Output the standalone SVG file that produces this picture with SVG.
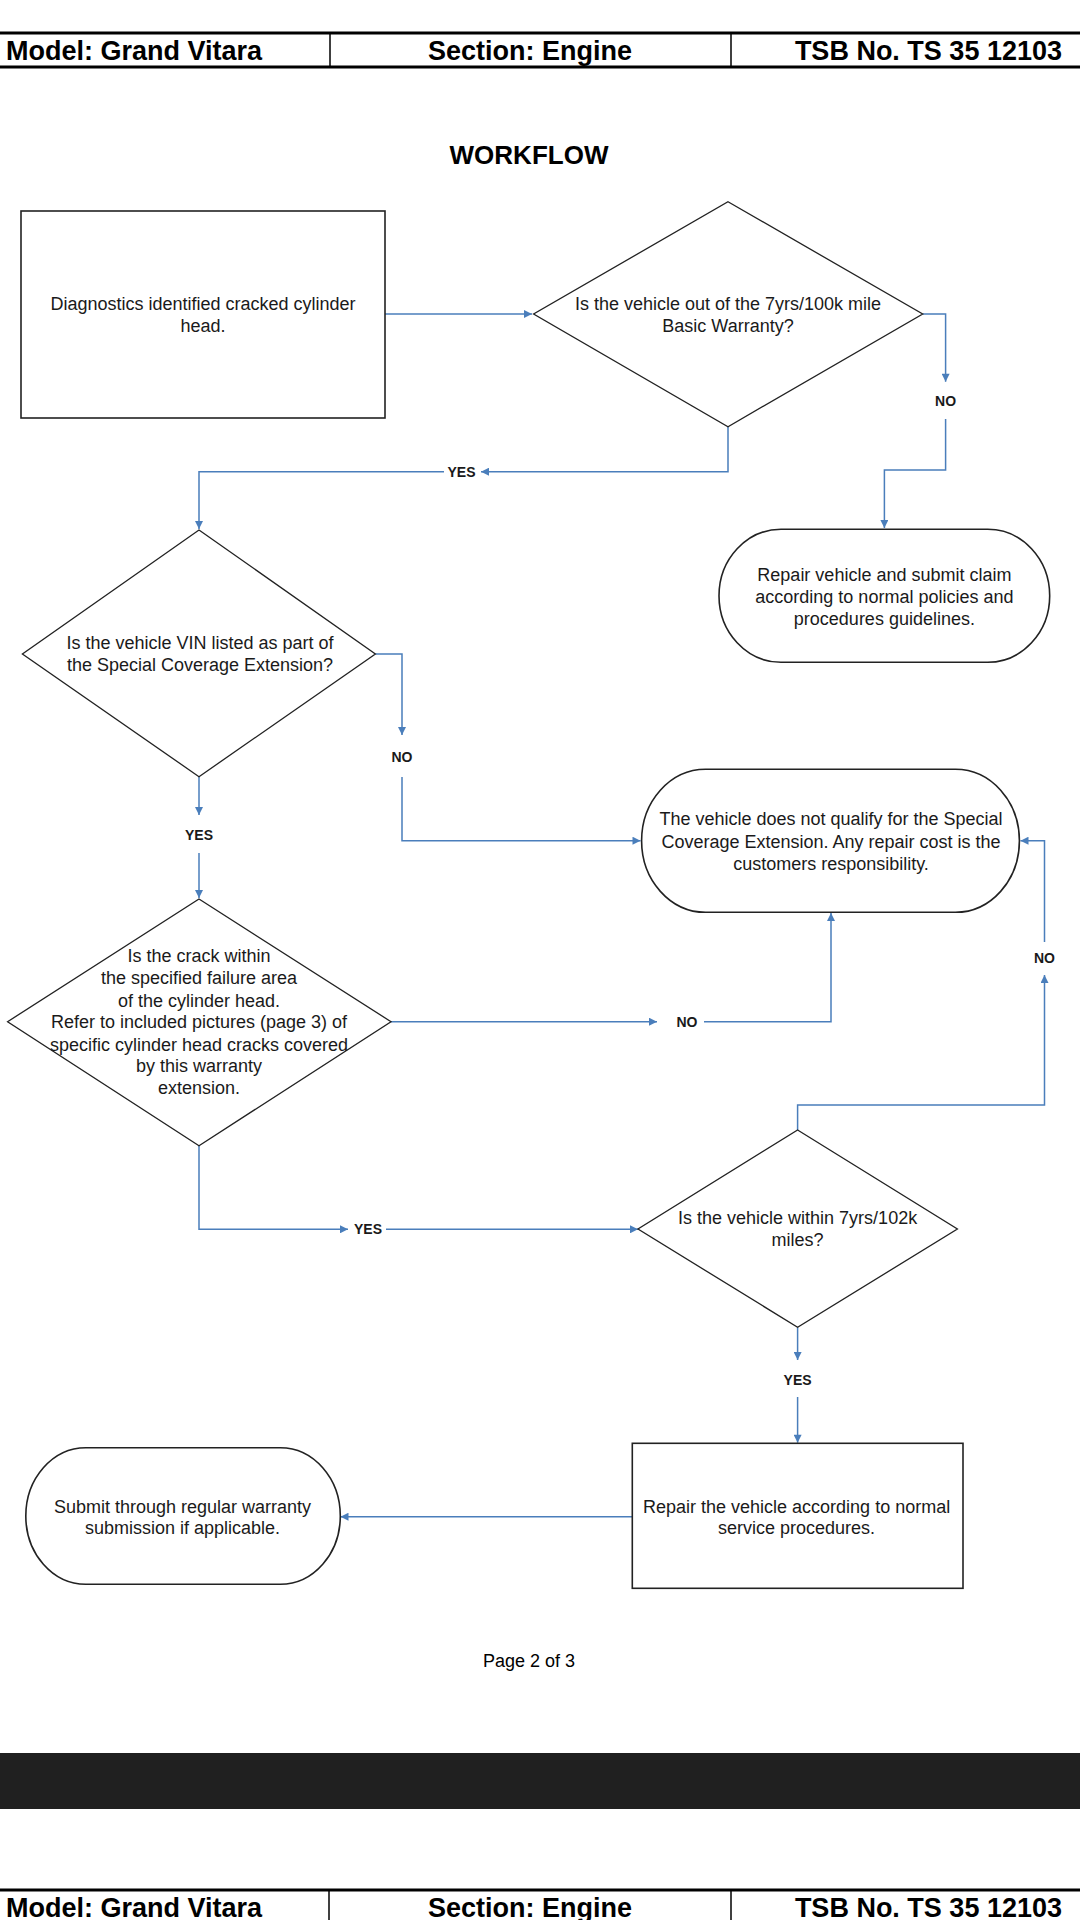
<svg xmlns="http://www.w3.org/2000/svg" width="1080" height="1920" viewBox="0 0 1080 1920">
<defs>
<marker id="arr" viewBox="0 0 10 10" refX="10" refY="5" markerWidth="9" markerHeight="8" markerUnits="userSpaceOnUse" orient="auto">
<path d="M0,0 L10,5 L0,10 z" fill="#4A7EBB"/>
</marker>
</defs>
<style>
.hdr{font-family:"Liberation Sans",Arial,sans-serif;font-weight:bold;font-size:27px;fill:#000}
.hl{stroke:#000;stroke-width:3;fill:none}
.vl{stroke:#000;stroke-width:1.5;fill:none}
.node{fill:#fff;stroke:#222;stroke-width:1.6}
.dia{fill:#fff;stroke:#222;stroke-width:1.3}
.t{font-family:"Liberation Sans",Arial,sans-serif;font-size:18px;fill:#1a1a1a;text-anchor:middle}
.lbl{font-family:"Liberation Sans",Arial,sans-serif;font-size:14px;font-weight:bold;fill:#1a1a1a;text-anchor:middle}
.c{fill:none;stroke:#4A7EBB;stroke-width:1.5}
.ca{fill:none;stroke:#4A7EBB;stroke-width:1.5;marker-end:url(#arr)}
</style>
<rect width="1080" height="1920" fill="#fff"/>

<g id="header-top">
<line class="hl" x1="0" y1="33" x2="1080" y2="33"/>
<line class="hl" x1="0" y1="67" x2="1080" y2="67"/>
<line class="vl" x1="330" y1="33" x2="330" y2="67"/>
<line class="vl" x1="731" y1="33" x2="731" y2="67"/>
<text class="hdr" x="6" y="60">Model: Grand Vitara</text>
<text class="hdr" x="530" y="60" text-anchor="middle">Section: Engine</text>
<text class="hdr" x="1062" y="60" text-anchor="end">TSB No. TS 35 12103</text>
</g>

<text id="title" x="529" y="164" text-anchor="middle" font-family="Liberation Sans, Arial, sans-serif" font-weight="bold" font-size="26" fill="#000">WORKFLOW</text>

<g id="connectors">
<path class="ca" d="M385,314 H532"/>
<path class="ca" d="M923,314 H945.6 V381.7"/>
<path class="ca" d="M945.6,419 V470 H884.4 V528"/>
<path class="ca" d="M728,427 V471.7 H481"/>
<path class="ca" d="M444,471.7 H199 V529"/>
<path class="ca" d="M375.4,654 H402 V735"/>
<path class="ca" d="M402,777 V840.7 H640.5"/>
<path class="ca" d="M199,777 V815"/>
<path class="ca" d="M199,853 V898"/>
<path class="ca" d="M391,1021.7 H657"/>
<path class="ca" d="M704,1021.7 H831 V913"/>
<path class="ca" d="M199,1145.7 V1229.3 H348"/>
<path class="ca" d="M386,1229.3 H638"/>
<path class="ca" d="M797.6,1130 V1105 H1044.5 V975"/>
<path class="ca" d="M1044.5,942 V840.7 H1020.5"/>
<path class="ca" d="M797.6,1327.3 V1360"/>
<path class="ca" d="M797.6,1397 V1442.7"/>
<path class="ca" d="M632.3,1516.7 H340.5"/>
</g>

<g id="labels">
<text class="lbl" x="945.6" y="405.7">NO</text>
<text class="lbl" x="461.5" y="476.7">YES</text>
<text class="lbl" x="402" y="761.7">NO</text>
<text class="lbl" x="199" y="840">YES</text>
<text class="lbl" x="687" y="1026.7">NO</text>
<text class="lbl" x="368" y="1234.3">YES</text>
<text class="lbl" x="1044.5" y="962.6">NO</text>
<text class="lbl" x="797.6" y="1385">YES</text>
</g>

<g id="n1-start">
<rect class="node" x="21" y="211" width="364" height="207"/>
<text class="t" x="203" y="310">Diagnostics identified cracked cylinder</text>
<text class="t" x="203" y="331.5">head.</text>
</g>

<g id="n2-basic-warranty">
<polygon class="dia" points="728,201.7 922.7,314 728,426.7 533.6,314"/>
<text class="t" x="728" y="310">Is the vehicle out of the 7yrs/100k mile</text>
<text class="t" x="728" y="331.5">Basic Warranty?</text>
</g>

<g id="n3-normal-claim">
<rect class="node" x="719" y="529.3" width="330.7" height="133" rx="62" ry="66.5"/>
<text class="t" x="884.4" y="580.5">Repair vehicle and submit claim</text>
<text class="t" x="884.4" y="602.5">according to normal policies and</text>
<text class="t" x="884.4" y="625">procedures guidelines.</text>
</g>

<g id="n4-vin">
<polygon class="dia" points="199,530 375.4,654 199,776.7 22.4,654"/>
<text class="t" x="200" y="649">Is the vehicle VIN listed as part of</text>
<text class="t" x="200" y="671">the Special Coverage Extension?</text>
</g>

<g id="n5-not-qualify">
<rect class="node" x="641.6" y="769.3" width="377.8" height="143" rx="64" ry="71.5"/>
<text class="t" x="831" y="825">The vehicle does not qualify for the Special</text>
<text class="t" x="831" y="848">Coverage Extension. Any repair cost is the</text>
<text class="t" x="831" y="870">customers responsibility.</text>
</g>

<g id="n6-crack-area">
<polygon class="dia" points="199,899 391,1021.7 199,1145.7 7.6,1021.7"/>
<text class="t" x="199" y="961.5">Is the crack within</text>
<text class="t" x="199" y="983.8">the specified failure area</text>
<text class="t" x="199" y="1006.5">of the cylinder head.</text>
<text class="t" x="199" y="1028">Refer to included pictures (page 3) of</text>
<text class="t" x="199" y="1050.5">specific cylinder head cracks covered</text>
<text class="t" x="199" y="1072">by this warranty</text>
<text class="t" x="199" y="1094">extension.</text>
</g>

<g id="n7-mileage">
<polygon class="dia" points="797.6,1130 957.4,1229 797.6,1327.3 638,1229"/>
<text class="t" x="797.6" y="1224">Is the vehicle within 7yrs/102k</text>
<text class="t" x="797.6" y="1246">miles?</text>
</g>

<g id="n8-repair">
<rect class="node" x="632.3" y="1443.3" width="330.7" height="145"/>
<text class="t" x="796.6" y="1512.5">Repair the vehicle according to normal</text>
<text class="t" x="796.6" y="1534">service procedures.</text>
</g>

<g id="n9-submit">
<rect class="node" x="25.8" y="1447.7" width="314.5" height="136.6" rx="60" ry="68.3"/>
<text class="t" x="182.5" y="1512.5">Submit through regular warranty</text>
<text class="t" x="182.5" y="1534">submission if applicable.</text>
</g>

<text id="page" x="529" y="1667" text-anchor="middle" font-family="Liberation Sans, Arial, sans-serif" font-size="18" fill="#000">Page 2 of 3</text>

<rect id="band" x="0" y="1753" width="1080" height="56" fill="#202020"/>

<g id="header-bottom">
<line class="hl" x1="0" y1="1890" x2="1080" y2="1890"/>
<line class="vl" x1="329" y1="1890" x2="329" y2="1920"/>
<line class="vl" x1="731" y1="1890" x2="731" y2="1920"/>
<text class="hdr" x="6" y="1917">Model: Grand Vitara</text>
<text class="hdr" x="530" y="1917" text-anchor="middle">Section: Engine</text>
<text class="hdr" x="1062" y="1917" text-anchor="end">TSB No. TS 35 12103</text>
</g>
</svg>
